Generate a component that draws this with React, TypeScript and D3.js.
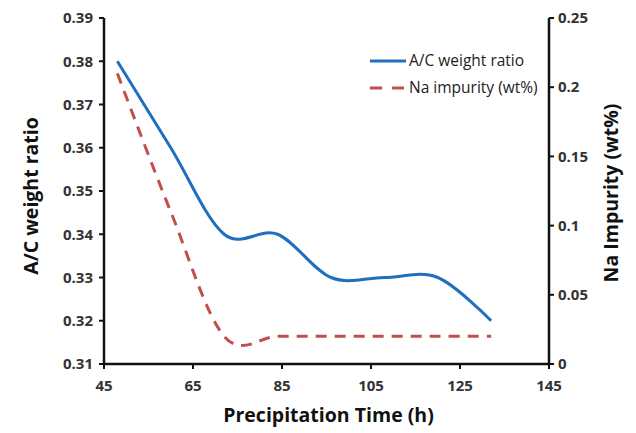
import React from "react";
import * as d3 from "d3";

const hours = [48, 60, 72, 84, 96, 108, 120, 132];
const acRatio = [0.38, 0.36, 0.34, 0.34, 0.33, 0.33, 0.33, 0.32];
const naImpurity = [0.21, 0.11, 0.02, 0.02, 0.02, 0.02, 0.02, 0.02];
const xTicks = [45, 65, 85, 105, 125, 145];
const yLeftTicks = [0.31, 0.32, 0.33, 0.34, 0.35, 0.36, 0.37, 0.38, 0.39];
const yRightTicks = [0, 0.05, 0.1, 0.15, 0.2, 0.25];

const W = 636, H = 433;
const L = 104, R = 549, T = 18, B = 364;
const FONT = "'Open Sans', 'Noto Sans', sans-serif";

export default function App() {
  const x = d3.scaleLinear().domain([45, 145]).range([L, R]);
  const yL = d3.scaleLinear().domain([0.31, 0.39]).range([B, T]);
  const yR = d3.scaleLinear().domain([0, 0.25]).range([B, T]);
  const curve = d3.curveCardinal.tension(0);
  const blueLine = d3.line<number>().x((_, i) => x(hours[i])).y((d) => yL(d)).curve(curve)(acRatio) || "";
  const redLine = d3.line<number>().x((_, i) => x(hours[i])).y((d) => yR(d)).curve(curve)(naImpurity) || "";
  const tickColor = "#333";
  const tfs = 15;
  return (
    <svg width={W} height={H} style={{ position: "absolute", left: 0, top: 0, background: "#fff" }}>
      <path d={redLine} fill="none" stroke="#C0504D" strokeWidth={3} strokeDasharray="11,8" />
      <path d={blueLine} fill="none" stroke="#1F6FBF" strokeWidth={3} />
      {/* axes */}
      <line x1={L} x2={L} y1={T} y2={B} stroke="#111" strokeWidth={2.5} />
      <line x1={R} x2={R} y1={T} y2={B} stroke="#111" strokeWidth={2.5} />
      <line x1={L - 1} x2={R + 1} y1={B} y2={B} stroke="#111" strokeWidth={2.5} />
      {yLeftTicks.map((t) => (
        <g key={"l" + t}>
          <line x1={L - 5} x2={L} y1={yL(t)} y2={yL(t)} stroke="#111" strokeWidth={2} />
          <text x={L - 11} y={yL(t)} dy="0.35em" textAnchor="end" fontFamily={FONT} fontWeight={700} fontSize={tfs} fill={tickColor}>
            {t.toFixed(2)}
          </text>
        </g>
      ))}
      {yRightTicks.map((t) => (
        <g key={"r" + t}>
          <line x1={R} x2={R + 5} y1={yR(t)} y2={yR(t)} stroke="#111" strokeWidth={2} />
          <text x={R + 9} y={yR(t)} dy="0.35em" textAnchor="start" fontFamily={FONT} fontWeight={700} fontSize={tfs} fill={tickColor}>
            {String(t)}
          </text>
        </g>
      ))}
      {xTicks.map((t) => (
        <g key={"x" + t}>
          <line x1={x(t)} x2={x(t)} y1={B} y2={B + 5} stroke="#111" strokeWidth={2} />
          <text x={x(t)} y={B + 27} textAnchor="middle" fontFamily={FONT} fontWeight={700} fontSize={tfs} fill={tickColor}>
            {t}
          </text>
        </g>
      ))}
      <text x={(L + R) / 2 + 2} y={422} textAnchor="middle" fontFamily={FONT} fontWeight={700} fontSize={19.5} fill="#111">
        Precipitation Time (h)
      </text>
      <text transform={`translate(38,${(T + B) / 2 + 5}) rotate(-90)`} textAnchor="middle" fontFamily={FONT} fontWeight={700} fontSize={19.5} fill="#111">
        A/C weight ratio
      </text>
      <text transform={`translate(618,${(T + B) / 2 + 2}) rotate(-90)`} textAnchor="middle" fontFamily={FONT} fontWeight={700} fontSize={19.5} fill="#111">
        Na Impurity (wt%)
      </text>
      {/* legend */}
      <line x1={370} x2={406} y1={61} y2={61} stroke="#1F6FBF" strokeWidth={3} />
      <text x={409} y={61} dy="0.35em" fontFamily={FONT} fontSize={15.5} fill="#222">A/C weight ratio</text>
      <line x1={370} x2={406} y1={88} y2={88} stroke="#C0504D" strokeWidth={3} strokeDasharray="12,10" />
      <text x={409} y={88} dy="0.35em" fontFamily={FONT} fontSize={15.5} fill="#222">Na impurity (wt%)</text>
    </svg>
  );
}
